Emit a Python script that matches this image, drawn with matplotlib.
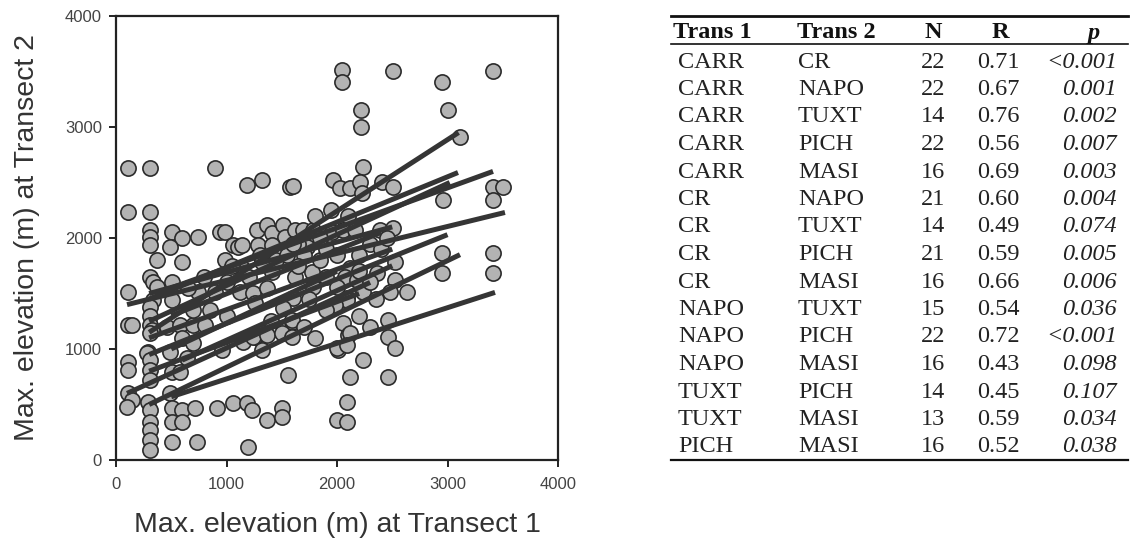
import matplotlib
matplotlib.use("Agg")
import matplotlib.pyplot as plt
from matplotlib.lines import Line2D

# ---------------- data ----------------
x_pts = [2045, 2045, 2507, 2950, 3412, 2217, 2217, 3005, 3113, 2235,
         109, 308, 896, 109, 308, 1185, 1321, 1575, 1600,
         1964, 2027, 2118, 2208, 2407, 2507, 2226,
         3412, 3502, 3412, 2960,
         308, 308, 507, 597, 742, 941, 986, 1276, 1366, 1412, 1511, 1529, 1620,
         1692, 1783, 1955, 2054, 2163, 2389, 2507,
         308, 489, 1059, 1104, 1140, 1285, 1412, 1728,
         371, 597, 986,
         308, 335, 371, 507, 109, 335, 507, 742, 896,
         1140, 1321, 1412, 1620, 1774, 1783, 2118, 2072, 2000, 2090, 2181,
         1122, 1240, 1366, 1602, 1511, 1592, 1258,
         2525, 2362, 2525, 2480, 2633, 2235, 2090,
         2950, 2950, 3412, 3412,
         1850, 1900, 2200, 2300, 2400, 1700, 2000, 1650, 1800, 1950, 2100,
         308, 308,
         109, 145, 308, 326, 462, 579, 697, 805, 308,
         290, 489, 643, 959, 280, 308,
         1149, 1258, 1330, 1149, 1240, 1366, 1321, 1502, 1592, 1592,
         1982, 2054, 2099, 2009, 2118, 2000, 2090,
         2461, 2461, 2525,
         109, 109, 308, 308, 507, 579,
         2235, 2118, 2461, 1557,
         109, 145, 99, 290, 308, 489, 507, 597, 715,
         308, 308, 507, 597,
         914, 1059, 1185, 1231,
         1366, 1502, 1502,
         308, 308, 507, 733, 1195,
         2000, 2090, 2090,
         650, 800, 1000, 1200, 1450, 1550, 1650, 1900, 2200, 2300, 2350,
         1750, 1900, 1000, 850, 700, 1700, 1800, 1400, 600, 700, 2300, 2200,
         1300, 1600, 2450, 1050, 1850]
y_pts = [3514, 3405, 3505, 3405, 3505, 3153, 3000, 3153, 2910, 2640,
         2631, 2631, 2631, 2234, 2234, 2477, 2523, 2459, 2470,
         2523, 2450, 2450, 2505, 2505, 2459, 2405,
         2459, 2459, 2342, 2342,
         2072, 2009, 2054, 2000, 2009, 2054, 2054, 2072, 2117, 2045, 2117, 2009, 2072,
         2072, 2072, 2054, 2072, 2072, 2072, 2090,
         1937, 1919, 1937, 1919, 1937, 1937, 1937, 1919,
         1802, 1784, 1802,
         1649, 1604, 1559, 1604, 1514, 1441, 1441, 1514, 1514,
         1730, 1784, 1694, 1649, 1694, 1559, 1730, 1649, 1559, 1459, 1622,
         1514, 1505, 1550, 1459, 1369, 1243, 1414,
         1784, 1685, 1622, 1514, 1514, 1514, 1441,
         1865, 1685, 1865, 1685,
         1800, 1900, 1850, 1950, 1900, 1850, 1850, 1950, 2200, 2250, 2200,
         1380, 1300,
         1216, 1216, 1216, 1171, 1198, 1216, 1216, 1216, 1144,
         973, 973, 919, 991, 964, 901,
         1081, 1108, 1144, 1063, 1108, 1126, 991, 1144, 1108, 1261,
         1396, 1234, 1126, 991, 1144, 1009, 1036,
         1261, 1108, 1009,
         883, 811, 811, 721, 793, 793,
         901, 748, 748, 766,
         604, 541, 477, 523, 450, 604, 468, 450, 468,
         342, 270, 342, 342,
         468, 514, 514, 450,
         360, 468, 387,
         180, 90, 162, 162, 117,
         360, 342, 523,
         1550, 1650, 1600, 1650, 1800, 1850, 1750, 1650, 1700, 1600, 1450,
         1450, 1350, 1300, 1350, 1350, 1200, 1100, 1250, 1100, 1050, 1200, 1300,
         1850, 1950, 2000, 1750, 2000]

# regression lines: start/end x and y
line_x0 = [300, 100, 300, 500, 300, 500, 300, 300, 100, 300, 500, 600, 300, 500, 300]
line_y0 = [1150, 1400, 500, 570, 1450, 1550, 1250, 950, 600, 1100, 1300, 900, 800, 1000, 1500]
line_x1 = [3100, 3520, 3113, 3430, 3095, 3412, 3020, 3000, 2300, 2500, 2400, 2500, 2200, 2000, 2500]
line_y1 = [2950, 2230, 1850, 1510, 2590, 2600, 2500, 2030, 1600, 1900, 2050, 1750, 1500, 1700, 2100]

trans1 = ["CARR", "CARR", "CARR", "CARR", "CARR", "CR", "CR", "CR", "CR",
          "NAPO", "NAPO", "NAPO", "TUXT", "TUXT", "PICH"]
trans2 = ["CR", "NAPO", "TUXT", "PICH", "MASI", "NAPO", "TUXT", "PICH", "MASI",
          "TUXT", "PICH", "MASI", "PICH", "MASI", "MASI"]
n_vals = [22, 22, 14, 22, 16, 21, 14, 21, 16, 15, 22, 16, 14, 13, 16]
r_vals = ["0.71", "0.67", "0.76", "0.56", "0.69", "0.60", "0.49", "0.59", "0.66",
          "0.54", "0.72", "0.43", "0.45", "0.59", "0.52"]
p_vals = ["<0.001", "0.001", "0.002", "0.007", "0.003", "0.004", "0.074", "0.005",
          "0.006", "0.036", "<0.001", "0.098", "0.107", "0.034", "0.038"]

# ---------------- figure ----------------
W, H = 1132, 541
fig = plt.figure(figsize=(W / 100, H / 100), dpi=100)

def fx(px):
    return px / W

def fy(py):
    return 1 - py / H

ax = fig.add_axes([fx(116), fy(460), fx(558) - fx(116), fy(16) - fy(460)])
ax.scatter(x_pts, y_pts, s=120, facecolor="#b3b3b3", edgecolor="#2b2b2b",
           linewidth=1.2, zorder=2)
for a, b, c, d in zip(line_x0, line_y0, line_x1, line_y1):
    ax.plot([a, c], [b, d], color="#353535", linewidth=3.6,
            solid_capstyle="butt", zorder=3)

ax.set_xlim(0, 4000)
ax.set_ylim(0, 4000)
ax.set_xticks([0, 1000, 2000, 3000, 4000])
ax.set_yticks([0, 1000, 2000, 3000, 4000])
for sp in ax.spines.values():
    sp.set_linewidth(1.6)
    sp.set_color("#222222")
ax.tick_params(direction="out", length=5, width=1.4, colors="#222222",
               labelsize=12, labelcolor="#444444")
ax.tick_params(axis="x", pad=7)
ax.tick_params(axis="y", pad=5)
for lab in ax.get_xticklabels() + ax.get_yticklabels():
    lab.set_family("Liberation Sans")
ax.set_xlabel("Max. elevation (m) at Transect 1", family="Liberation Sans",
              fontsize=20.5, color="#333333")
ax.set_ylabel("Max. elevation (m) at Transect 2", family="Liberation Sans",
              fontsize=20.5, color="#333333")
ax.xaxis.label.set_va("center")
ax.yaxis.label.set_va("center")
ax.xaxis.set_label_coords(0.5, (460 - 525) / 444)
ax.yaxis.set_label_coords((27 - 116) / 442, 0.5)

# ---------------- table ----------------
serif = "Liberation Serif"
fs = 17.5
tc = "#222222"
header_y = 33
fig.text(fx(673), fy(header_y), "Trans 1", family=serif, weight="bold",
         fontsize=fs, color="#111111", ha="left", va="center")
fig.text(fx(797), fy(header_y), "Trans 2", family=serif, weight="bold",
         fontsize=fs, color="#111111", ha="left", va="center")
fig.text(fx(933), fy(header_y), "N", family=serif, weight="bold",
         fontsize=fs, color="#111111", ha="center", va="center")
fig.text(fx(1000), fy(header_y), "R", family=serif, weight="bold",
         fontsize=fs, color="#111111", ha="center", va="center")
fig.text(fx(1094), fy(header_y), "p", family=serif, weight="bold",
         style="italic", fontsize=fs, color="#111111", ha="center", va="center")

row0 = 62
dy = 27.5
for i in range(len(trans1)):
    yy = fy(row0 + i * dy)
    fig.text(fx(678), yy, trans1[i], family=serif, fontsize=fs, color=tc,
             ha="left", va="center")
    fig.text(fx(798), yy, trans2[i], family=serif, fontsize=fs, color=tc,
             ha="left", va="center")
    fig.text(fx(933), yy, str(n_vals[i]), family=serif, fontsize=fs, color=tc,
             ha="center", va="center")
    fig.text(fx(998), yy, r_vals[i], family=serif, fontsize=fs, color=tc,
             ha="center", va="center")
    fig.text(fx(1117), yy, p_vals[i], family=serif, style="italic",
             fontsize=fs, color=tc, ha="right", va="center")

for py, lw in [(16, 2.0), (44, 1.2), (460, 1.6)]:
    fig.add_artist(Line2D([fx(671), fx(1128)], [fy(py), fy(py)],
                          color="#111111", linewidth=lw))

fig.savefig("out.png", dpi=100)
